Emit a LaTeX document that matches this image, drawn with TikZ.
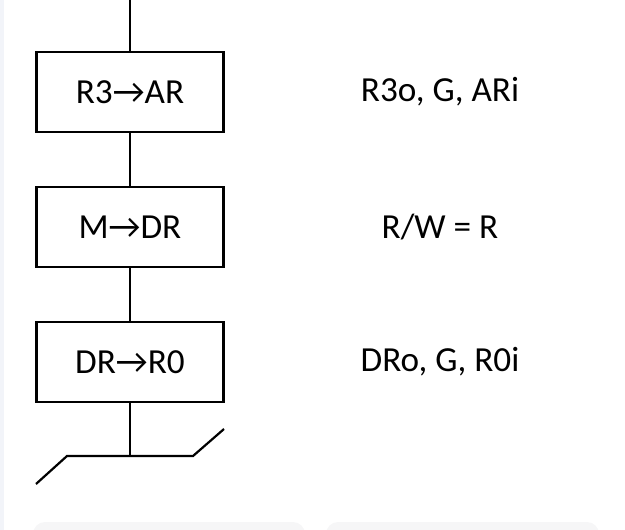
\documentclass[tikz,border=0pt]{standalone}
\usepackage{fontspec}
\setmainfont{Carlito}
\definecolor{pagegrey}{HTML}{F6F6F7}
\definecolor{edgeblue}{HTML}{F2F4F9}
\begin{document}
\begin{tikzpicture}[x=0.5bp,y=-0.5bp,line width=1.1bp,
    op/.style={draw,minimum width=93.5bp,minimum height=40bp,inner sep=0pt},
    sig/.style={inner sep=0pt}]
    \useasboundingbox (0,0) rectangle (625,530);
    \fill[edgeblue] (0,0) rectangle (4,530);
    \fill[pagegrey,rounded corners=6bp] (33,522) rectangle (305,560);
    \fill[pagegrey,rounded corners=6bp] (326,522) rectangle (599,560);
    \fontsize{17.6bp}{20bp}\selectfont
    %        step 1                step 2          step 3
    \foreach \o/\s [count=\i from 1] in {R3→AR/{R3o, G, ARi},M→DR/{R/W = R},DR→R0/{DRo, G, R0i}}
      {\node[op] (b\i) at (130,{92+135*(\i-1)}) {\o};
       \node[sig] (l\i) at (440,{92+135*(\i-1)}) {\s};}
    \coordinate (top) at (130,0);
    \coordinate (fork) at (130,456);
    \coordinate (busl) at (36,484);
    \coordinate (busa) at (67,456);
    \coordinate (busb) at (193,456);
    \coordinate (busr) at (224,429);
    \draw (top)--(b1.north);
    \draw (b1.south)--(b2.north);
    \draw (b2.south)--(b3.north);
    \draw (b3.south)--(fork);
    \draw (busl)--(busa)--(busb)--(busr);
  \end{tikzpicture}
\end{document}
